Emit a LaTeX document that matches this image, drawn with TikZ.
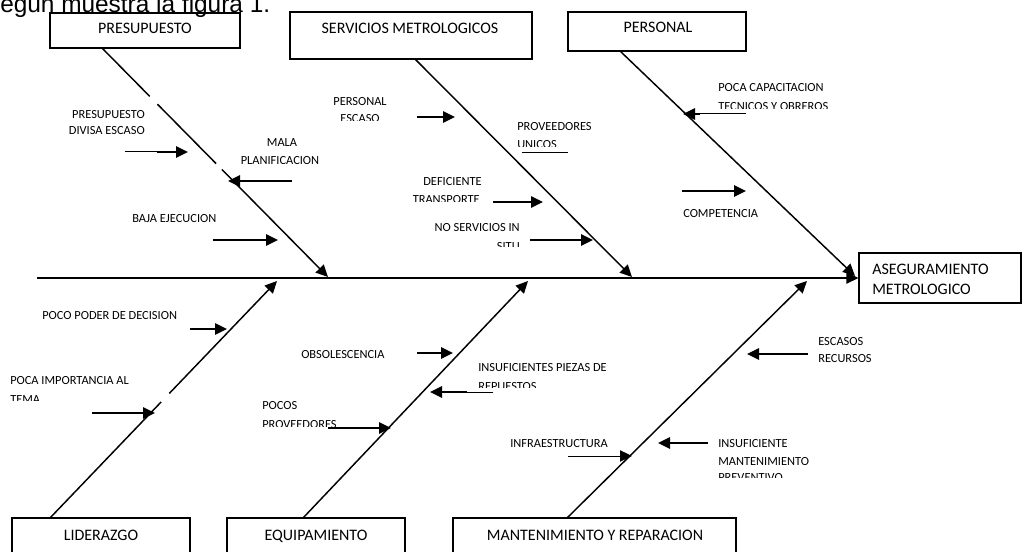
\documentclass[tikz,border=0pt]{standalone}
\usepackage{fontspec}
\setmainfont{Carlito}
\newfontfamily\headfont{Liberation Sans}
\usetikzlibrary{arrows.meta,calc}

\begin{document}
\begin{tikzpicture}[x=0.75pt,y=-0.75pt,
  boxsty/.style={draw, line width=0.9pt, inner sep=0pt},
  boxtext/.style={font=\fontsize{12}{15}\selectfont, inner sep=0pt, anchor=base},
  lbl/.style={font=\fontsize{9.3}{12}\selectfont, inner sep=0pt, anchor=base west},
  lblr/.style={lbl, anchor=base east},
  lblc/.style={lbl, anchor=base},
  tipsty/.style={-{Triangle[length=9pt,width=8.5pt]}},
  bone/.style={line width=1.1pt, tipsty},
  cause/.style={line width=1.5pt, tipsty},
  thincause/.style={line width=0.75pt, tipsty},
  thinline/.style={line width=0.75pt},
  gap/.style={white, line width=3pt},
]
\useasboundingbox (0,0) rectangle (1024,552);
\clip (0,0) rectangle (1024,552);
\fill[white] (0,0) rectangle (1024,552);

% caption line above the figure
\node[font=\headfont\fontsize{18.3}{22}\selectfont, anchor=base west, inner sep=0pt] (caption) at (0,12.5) {egún muestra la figura 1.};

% category boxes
\node[boxsty, minimum width=142.5pt, minimum height=26.25pt] (pres) at (145,30.5) {};
\node[boxtext] (prest) at (145,34) {PRESUPUESTO};
\node[boxsty, minimum width=181.5pt, minimum height=35.25pt] (serv) at (411,35.5) {};
\node[boxtext] (servt) at (410,34) {SERVICIOS METROLOGICOS};
\node[boxsty, minimum width=133.5pt, minimum height=29.25pt] (pers) at (657,31.5) {};
\node[boxtext] (perst) at (658,33) {PERSONAL};
\node[boxsty, minimum width=133.5pt, minimum height=46.5pt] (lid) at (101,549) {};
\node[boxtext] (lidt) at (101,540) {LIDERAZGO};
\node[boxsty, minimum width=133.5pt, minimum height=46.5pt] (equ) at (316,549) {};
\node[boxtext] (equt) at (316,540) {EQUIPAMIENTO};
\node[boxsty, minimum width=212.25pt, minimum height=46.5pt] (mant) at (594.5,549) {};
\node[boxtext] (mantt) at (595,540) {MANTENIMIENTO Y REPARACION};

% effect box
\node[boxsty, minimum width=121.5pt, minimum height=37.5pt] (aseg) at (940,278) {};
\node[boxtext, anchor=base west] (aseg1) at (872,275) {ASEGURAMIENTO};
\node[boxtext, anchor=base west] (aseg2) at (872,295) {METROLOGICO};

% bone ends
\coordinate (spinestart) at (37,278);
\coordinate (presfoot) at (102,48);
\coordinate (prestip) at (328,277);
\coordinate (servfoot) at (415,59);
\coordinate (servtip) at (632,277);
\coordinate (persfoot) at (620,51);
\coordinate (perstip) at (855,276);
\coordinate (lidfoot) at (50,518);
\coordinate (lidtip) at (277,281);
\coordinate (equfoot) at (303,518);
\coordinate (equtip) at (528,281);
\coordinate (mantfoot) at (567,518);
\coordinate (manttip) at (807,281);

% spine and bones
\draw[bone] (spinestart) -- (aseg.west);
\draw[bone] (presfoot) -- (prestip);
\draw[bone] (servfoot) -- (servtip);
\draw[bone] (persfoot) -- (perstip);
\draw[bone] (lidfoot) -- (lidtip);
\draw[bone] (equfoot) -- (equtip);
\draw[bone] (mantfoot) -- (manttip);

% breaks in the bones left by the text frames
\draw[gap] ($(presfoot)!0.212!(prestip)$) -- ($(presfoot)!0.245!(prestip)$);
\draw[gap] ($(presfoot)!0.505!(prestip)$) -- ($(presfoot)!0.530!(prestip)$);
\draw[gap] ($(lidfoot)!0.49!(lidtip)$) -- ($(lidfoot)!0.525!(lidtip)$);

% ---- PRESUPUESTO causes
\node[lblr] (c1a) at (145,119) {PRESUPUESTO};
\node[lblr] (c1b) at (145,135) {DIVISA ESCASO};
\coordinate (a1s) at (125,152); \coordinate (a1m) at (157,152); \coordinate (a1e) at (188,152);
\draw[thinline] (a1s) -- (a1m);
\draw[cause] (a1m) -- (a1e);

\node[lblc] (c2a) at (282,147) {MALA};
\begin{scope}\clip (0,0) rectangle (1024,163.3);
\node[lblc] (c2b) at (280,165) {PLANIFICACION};
\end{scope}
\coordinate (a2s) at (292,181); \coordinate (a2e) at (228,181);
\draw[cause] (a2s) -- (a2e);

\node[lbl] (c3) at (132,223) {BAJA EJECUCION};
\coordinate (a3s) at (213,240); \coordinate (a3e) at (278,240);
\draw[cause] (a3s) -- (a3e);

% ---- SERVICIOS METROLOGICOS causes
\node[lblc] (c4a) at (360,106) {PERSONAL};
\begin{scope}\clip (0,0) rectangle (1024,120.3);
\node[lblc] (c4b) at (360,123) {ESCASO};
\end{scope}
\coordinate (a4s) at (417,117); \coordinate (a4e) at (455,117);
\draw[cause] (a4s) -- (a4e);

\node[lbl] (c5a) at (517,131) {PROVEEDORES};
\begin{scope}\clip (0,0) rectangle (1024,147);
\node[lbl] (c5b) at (517,149) {UNICOS};
\end{scope}
\coordinate (a5s) at (568,153); \coordinate (a5e) at (522,153);
\draw[thinline] (a5s) -- (a5e);

\node[lblr] (c6a) at (482,186) {DEFICIENTE};
\begin{scope}\clip (0,0) rectangle (1024,202);
\node[lblr] (c6b) at (480,203.5) {TRANSPORTE};
\end{scope}
\coordinate (a6s) at (493,202); \coordinate (a6e) at (543,202);
\draw[cause] (a6s) -- (a6e);

\node[lblr] (c7a) at (520,232) {NO SERVICIOS IN};
\begin{scope}\clip (0,0) rectangle (1024,247);
\node[lblr] (c7b) at (520,251) {SITU};
\end{scope}
\coordinate (a7s) at (530,240); \coordinate (a7e) at (593,240);
\draw[cause] (a7s) -- (a7e);

% ---- PERSONAL causes
\node[lbl] (c8a) at (718,92) {POCA CAPACITACION};
\begin{scope}\clip (0,0) rectangle (1024,109);
\node[lbl] (c8b) at (718,111) {TECNICOS Y OBREROS};
\end{scope}
\coordinate (a8s) at (746,114); \coordinate (a8m) at (700,114); \coordinate (a8e) at (683,114);
\draw[thinline] (a8s) -- (a8m);
\draw[cause] (a8m) -- (a8e);

\coordinate (a9s) at (682,191); \coordinate (a9e) at (746,191);
\draw[cause] (a9s) -- (a9e);
\node[lbl] (c9) at (683,218) {COMPETENCIA};

% ---- LIDERAZGO causes
\node[lbl] (c10) at (42,320) {POCO PODER DE DECISION};
\coordinate (a10s) at (190,329); \coordinate (a10e) at (227,329);
\draw[cause] (a10s) -- (a10e);

\node[lbl] (c11a) at (10,384) {POCA IMPORTANCIA AL};
\begin{scope}\clip (0,0) rectangle (1024,400);
\node[lbl] (c11b) at (10,403) {TEMA};
\end{scope}
\coordinate (a11s) at (92,413); \coordinate (a11e) at (155,413);
\draw[cause] (a11s) -- (a11e);

% ---- EQUIPAMIENTO causes
\node[lbl] (c12) at (301,358) {OBSOLESCENCIA};
\coordinate (a12s) at (417,353); \coordinate (a12e) at (453,353);
\draw[cause] (a12s) -- (a12e);

\node[lbl] (c13a) at (478,371) {INSUFICIENTES PIEZAS DE};
\begin{scope}\clip (0,0) rectangle (1024,387);
\node[lbl] (c13b) at (478,390) {REPUESTOS};
\end{scope}
\coordinate (a13s) at (493,392); \coordinate (a13m) at (467,392); \coordinate (a13e) at (430,392);
\draw[thinline] (a13s) -- (a13m);
\draw[cause] (a13m) -- (a13e);

\node[lbl] (c14a) at (262,409) {POCOS};
\begin{scope}\clip (0,0) rectangle (1024,426);
\node[lbl] (c14b) at (262,428) {PROVEEDORES};
\end{scope}
\coordinate (a14s) at (328,428); \coordinate (a14e) at (391,428);
\draw[cause] (a14s) -- (a14e);

% ---- MANTENIMIENTO Y REPARACION causes
\node[lbl] (c15a) at (818,345) {ESCASOS};
\node[lbl] (c15b) at (818,362) {RECURSOS};
\coordinate (a15s) at (808,354); \coordinate (a15e) at (747,354);
\draw[cause] (a15s) -- (a15e);

\node[lbl] (c16) at (510,447) {INFRAESTRUCTURA};
\coordinate (a16s) at (568,456); \coordinate (a16e) at (632,456);
\draw[thincause] (a16s) -- (a16e);

\node[lbl] (c17a) at (718,447) {INSUFICIENTE};
\node[lbl] (c17b) at (718,465) {MANTENIMIENTO};
\begin{scope}\clip (0,0) rectangle (1024,477);
\node[lbl] (c17c) at (718,481) {PREVENTIVO};
\end{scope}
\coordinate (a17s) at (708,443); \coordinate (a17e) at (658,443);
\draw[cause] (a17s) -- (a17e);

\end{tikzpicture}
\end{document}
